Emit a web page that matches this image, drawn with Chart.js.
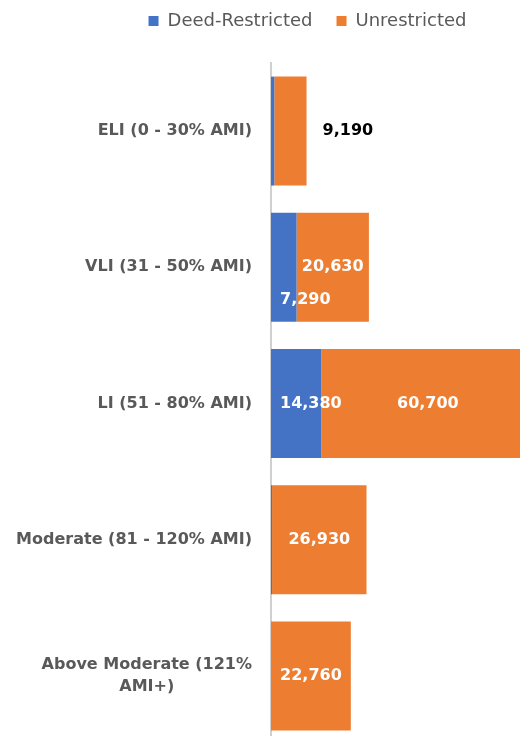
<!DOCTYPE html>
<html>
<head>
<meta charset="utf-8">
<script src="https://cdn.jsdelivr.net/npm/chart.js@4.4.1/dist/chart.umd.min.js"></script>
<style>
  html, body { margin: 0; padding: 0; background: #fff; overflow: hidden; }
  #wrap { position: relative; width: 520px; height: 744px; }
</style>
</head>
<body>
<div id="wrap"><canvas id="amiChart"></canvas></div>
<script>
// === Data ===
const categories = [
  'ELI (0 - 30% AMI)',
  'VLI (31 - 50% AMI)',
  'LI (51 - 80% AMI)',
  'Moderate (81 - 120% AMI)',
  ['Above Moderate (121%', 'AMI+)']
];
const deedRestricted = [950, 7290, 14380, 300, 0];
const unrestricted = [9190, 20630, 60700, 26930, 22760];
const seriesNames = ['Deed-Restricted', 'Unrestricted'];
const axisMax = 71000;

// where each value label sits (none / base / base-low / center / outside)
const labelSpots = [
  ['none', 'base-low', 'base', 'none', 'none'],
  ['outside', 'center', 'center', 'center', 'center']
];

const FONT = "'DejaVu Sans', sans-serif";
const GREY = '#595959';

// === Plugins ===
// extra room under the legend
const legendRoom = {
  id: 'legendRoom',
  beforeInit(chart) {
    const fit = chart.legend.fit;
    chart.legend.fit = function () {
      fit.call(this);
      this.height = 75;
    };
  }
};

// category labels: block right-aligned, lines centred on each other
const categoryLabels = {
  id: 'categoryLabels',
  afterDraw(chart) {
    const { ctx, chartArea } = chart;
    const yScale = chart.scales.y;
    const right = chartArea.left - 19;
    ctx.save();
    ctx.font = 'bold 16px ' + FONT;
    ctx.fillStyle = GREY;
    ctx.textAlign = 'center';
    ctx.textBaseline = 'middle';
    categories.forEach((cat, i) => {
      const lines = Array.isArray(cat) ? cat : [cat];
      const widest = Math.max(...lines.map(l => ctx.measureText(l).width));
      const cx = right - widest / 2;
      const lh = 21.5;
      const y0 = yScale.getPixelForValue(i) - (lines.length - 1) * lh / 2;
      lines.forEach((l, j) => ctx.fillText(l, cx, y0 + j * lh));
    });
    ctx.restore();
  }
};

// value labels on the bars
const valueLabels = {
  id: 'valueLabels',
  afterDatasetsDraw(chart) {
    const { ctx } = chart;
    ctx.save();
    ctx.font = 'bold 16px ' + FONT;
    ctx.textBaseline = 'middle';
    chart.data.datasets.forEach((ds, d) => {
      chart.getDatasetMeta(d).data.forEach((bar, i) => {
        const spot = labelSpots[d][i];
        if (spot === 'none') return;
        const txt = ds.data[i].toLocaleString('en-US');
        let x = (bar.base + bar.x) / 2, y = bar.y;
        ctx.fillStyle = '#ffffff';
        ctx.textAlign = 'center';
        if (spot === 'base' || spot === 'base-low') {
          x = bar.base + 9;
          ctx.textAlign = 'left';
          if (spot === 'base-low') y += 33;
        } else if (spot === 'outside') {
          x = bar.x + 16;
          ctx.textAlign = 'left';
          ctx.fillStyle = '#000000';
        }
        ctx.fillText(txt, x, y);
      });
    });
    ctx.restore();
  }
};

// === Chart ===
Chart.defaults.font.family = FONT;

new Chart(document.getElementById('amiChart'), {
  type: 'bar',
  data: {
    labels: categories,
    datasets: [
      { label: seriesNames[0], data: deedRestricted, backgroundColor: '#4472C4' },
      { label: seriesNames[1], data: unrestricted, backgroundColor: '#ED7D31' }
    ]
  },
  options: {
    indexAxis: 'y',
    responsive: true,
    maintainAspectRatio: false,
    animation: false,
    datasets: { bar: { barPercentage: 0.8, categoryPercentage: 1.0 } },
    layout: { padding: { top: -12, right: -95, bottom: 0, left: 0 } },
    scales: {
      x: { stacked: true, min: 0, max: axisMax, display: false },
      y: {
        stacked: true,
        ticks: { display: false },
        grid: { display: false },
        border: { display: true, color: '#d0d0d0', width: 2 },
        afterFit(scale) { scale.width = 271; }
      }
    },
    plugins: {
      legend: {
        position: 'top',
        labels: {
          boxWidth: 10,
          boxHeight: 10,
          padding: 24,
          color: GREY,
          font: { size: 18 }
        }
      },
      tooltip: { enabled: false }
    }
  },
  plugins: [legendRoom, categoryLabels, valueLabels]
});
</script>
</body>
</html>
